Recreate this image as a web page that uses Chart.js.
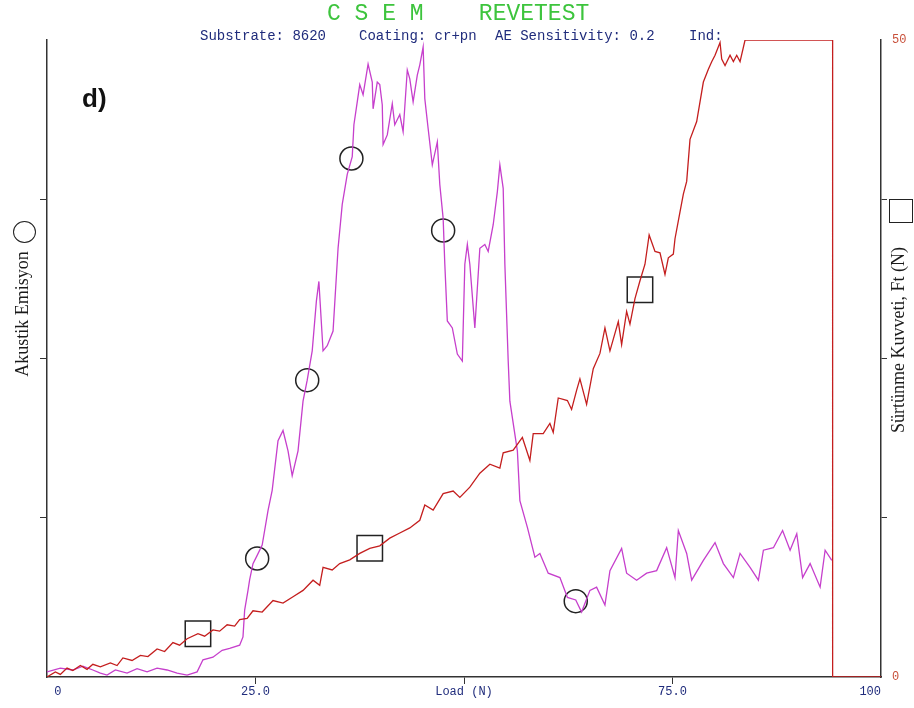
<!DOCTYPE html>
<html>
<head>
<meta charset="utf-8">
<script src="https://cdn.jsdelivr.net/npm/chart.js@4/dist/chart.umd.min.js"></script>
<style>
  body { margin: 0; background: #fff; }
  #wrap { position: relative; width: 914px; height: 708px; overflow: hidden; }
  .txt { position: absolute; white-space: pre; }
  .mono { font-family: 'Liberation Mono', 'DejaVu Sans Mono', monospace; }
  .sub { top: 29px; font-size: 14px; line-height: 14px; color: #202c7c; }
  .rot { position: absolute; white-space: nowrap; font-family: 'Liberation Serif', serif;
         font-size: 18px; color: #1a1a1a; transform: translate(-50%, -50%) rotate(-90deg); }
</style>
</head>
<body>
<div id="wrap">
  <canvas id="chart" width="914" height="708"></canvas>
  <div class="txt mono" style="left:327px;top:3px;font-size:23px;line-height:23px;color:#3dc43d;">C S E M    REVETEST</div>
  <div class="txt mono sub" style="left:200px;">Substrate: 8620</div>
  <div class="txt mono sub" style="left:359px;">Coating: cr+pn</div>
  <div class="txt mono sub" style="left:495px;">AE Sensitivity: 0.2</div>
  <div class="txt mono sub" style="left:689px;">Ind:</div>
  <div class="txt" style="left:82px;top:85px;font:bold 26px/26px 'Liberation Sans', Arial, sans-serif;color:#111;">d)</div>
  <div class="rot" style="left:22px;top:314px;">Akustik Emisyon</div>
  <div style="position:absolute;left:13px;top:221px;width:21px;height:20px;border:1.5px solid #222;border-radius:50%;"></div>
  <div class="rot" style="left:898px;top:340px;">Sürtünme Kuvveti, Ft (N)</div>
  <div style="position:absolute;left:889px;top:199px;width:22px;height:22px;border:1.5px solid #222;"></div>
</div>
<script>
// scales
const loadTicks = [0, 25, 50, 75, 100];
const loadTickLabels = ['0', '25.0', 'Load (N)', '75.0', '100'];
const aeTicks = [0, 25, 50, 75, 100];
const ftTicks = [0, 12.5, 25, 37.5, 50];
const ftTickLabels = ['0', '', '', '', '50'];

// Akustik Emisyon (magenta)
const aeLoad = [0.0, 1.6, 3.1, 4.3, 5.5, 6.4, 7.2, 8.2, 9.6, 10.8, 12.0, 13.2, 14.4, 15.6, 16.8, 18.0,
  18.7, 19.9, 21.0, 21.9, 23.1, 23.5, 23.7, 24.1, 24.3, 24.7, 25.2, 25.8, 26.5, 27.0, 27.7, 28.3,
  28.9, 29.4, 30.1, 30.7, 31.2, 31.8, 32.3, 32.6, 33.1, 33.6, 34.3, 34.9, 35.4, 36.0, 36.6, 36.8,
  37.2, 37.5, 37.9, 38.5, 39.0, 39.1, 39.6, 39.9, 40.2, 40.3, 40.8, 41.4, 41.7, 42.3, 42.7, 43.2,
  43.5, 43.9, 44.4, 44.7, 45.1, 45.3, 45.7, 46.2, 46.8, 47.1, 47.5, 47.7, 48.0, 48.6, 49.2, 49.8,
  50.1, 50.4, 50.7, 51.3, 51.9, 52.5, 52.9, 53.5, 54.0, 54.3, 54.7, 54.9, 55.3, 55.5, 56.4, 56.7,
  57.6, 58.5, 59.1, 60.1, 61.5, 62.4, 63.4, 64.1, 65.1, 65.9, 66.9, 67.5, 68.9, 69.5, 70.7, 71.9,
  73.1, 74.3, 75.3, 75.7, 76.7, 77.3, 78.7, 80.1, 81.1, 82.3, 83.1, 84.3, 85.3, 85.9, 87.1, 88.2,
  89.1, 89.9, 90.6, 91.5, 92.7, 93.3, 94.1];
const aeValue = [0.8, 1.4, 1.1, 1.7, 1.1, 0.6, 0.3, 1.1, 0.6, 1.3, 0.8, 1.4, 1.1, 0.6, 0.3, 0.8,
  2.7, 3.1, 4.2, 4.5, 5.0, 6.3, 10.5, 13.6, 15.3, 17.8, 19.1, 20.7, 26.1, 29.3, 37.1, 38.7,
  35.5, 31.6, 35.5, 43.3, 46.6, 51.2, 59.0, 62.1, 51.2, 52.0, 54.3, 67.3, 74.2, 78.9, 81.7, 86.7,
  90.3, 93.0, 91.4, 96.2, 93.4, 89.2, 93.4, 93.0, 89.8, 83.6, 85.1, 90.0, 86.7, 88.3, 85.6, 95.3,
  93.9, 90.3, 94.5, 96.1, 98.9, 90.8, 86.1, 80.4, 84.0, 77.3, 72.0, 64.8, 55.9, 54.8, 50.7, 49.6,
  64.8, 67.9, 64.8, 54.8, 67.3, 67.9, 66.8, 71.0, 76.2, 80.4, 76.7, 64.8, 49.6, 43.3, 35.5, 27.7,
  23.5, 18.8, 19.4, 16.3, 15.6, 12.5, 12.1, 10.2, 13.6, 14.1, 11.3, 16.7, 20.2, 16.3, 15.2, 16.3,
  16.7, 20.3, 15.6, 23.0, 19.4, 15.2, 18.3, 21.1, 17.8, 15.6, 19.4, 17.2, 15.2, 19.9, 20.3, 23.0,
  19.9, 22.5, 15.6, 17.8, 14.1, 19.9, 18.3];

// Sürtünme Kuvveti (red)
const ftLoad = [0.0, 1.0, 1.6, 2.4, 3.1, 4.0, 4.8, 5.5, 6.4, 7.6, 8.4, 9.1, 10.2, 11.2, 12.1, 13.2,
  14.1, 15.1, 15.9, 16.8, 18.1, 18.9, 19.9, 20.7, 21.6, 22.5, 23.1, 24.0, 24.7, 25.8, 27.1, 28.3,
  29.5, 30.7, 31.9, 32.7, 33.1, 34.2, 35.1, 36.3, 37.5, 38.7, 39.9, 41.1, 42.3, 43.5, 44.7, 45.3,
  46.3, 47.5, 48.7, 49.5, 50.7, 51.9, 53.1, 54.3, 54.7, 55.9, 57.0, 57.9, 58.3, 59.5, 60.3, 60.7,
  61.3, 62.4, 62.9, 63.5, 63.9, 64.7, 65.5, 66.3, 66.9, 67.5, 68.5, 68.9, 69.5, 69.9, 70.5, 71.1,
  71.7, 72.2, 72.9, 73.5, 74.1, 74.5, 75.1, 75.3, 75.9, 76.3, 76.7, 77.1, 77.9, 78.7, 79.3, 79.7,
  80.1, 80.7, 80.9, 81.3, 81.9, 82.3, 82.7, 83.1, 83.7, 94.2, 94.2, 100];
const ftValue = [0.0, 0.4, 0.2, 0.7, 0.5, 0.9, 0.6, 1.0, 0.8, 1.1, 0.9, 1.5, 1.3, 1.7, 1.6, 2.2,
  2.0, 2.7, 2.5, 3.0, 3.4, 3.2, 3.7, 3.6, 4.1, 4.0, 4.5, 4.6, 5.2, 5.1, 6.0, 5.8,
  6.3, 6.8, 7.6, 7.2, 8.6, 8.4, 8.9, 9.2, 9.7, 10.1, 10.3, 10.9, 11.3, 11.7, 12.3, 13.5,
  13.1, 14.4, 14.6, 14.1, 14.9, 16.0, 16.7, 16.4, 17.6, 17.8, 18.8, 17.0, 19.1, 19.1, 19.9, 19.2,
  21.9, 21.7, 21.0, 22.5, 23.4, 21.4, 24.2, 25.4, 27.4, 25.6, 27.9, 26.1, 28.7, 27.7, 29.7, 31.1,
  32.4, 34.7, 33.4, 33.3, 31.6, 32.9, 33.2, 34.4, 36.5, 37.9, 38.9, 42.2, 43.6, 46.7, 47.7, 48.3,
  48.8, 49.8, 48.5, 48.0, 48.8, 48.3, 48.8, 48.3, 50.0, 50.0, 0, 0];

// open markers
const aeMarkLoad = [25.2, 31.2, 36.5, 47.5, 63.4];
const aeMarkValue = [18.6, 46.6, 81.4, 70.1, 11.9];
const ftMarkLoad = [18.1, 38.7, 71.1];
const ftMarkValue = [3.4, 10.1, 30.4];

const pts = (xs, ys) => xs.map((x, i) => ({ x: x, y: ys[i] }));
const edgeHidden = c => (c.index === 0 || c.index === 4) ? 'rgba(0,0,0,0)' : '#333';
const monoFont = { family: "'Liberation Mono', 'DejaVu Sans Mono', monospace", size: 12 };

new Chart(document.getElementById('chart'), {
  type: 'line',
  data: {
    datasets: [
      { data: pts(ftLoad, ftValue), yAxisID: 'y1', borderColor: '#c41e1e', borderWidth: 1.3,
        pointRadius: 0, tension: 0 },
      { data: pts(aeLoad, aeValue), yAxisID: 'y', borderColor: '#c63fcc', borderWidth: 1.3,
        pointRadius: 0, tension: 0 },
      { data: pts(aeMarkLoad, aeMarkValue), yAxisID: 'y', showLine: false, pointStyle: 'circle',
        pointRadius: 11.5, pointBorderWidth: 1.5, pointBorderColor: '#222',
        pointBackgroundColor: 'rgba(0,0,0,0)' },
      { data: pts(ftMarkLoad, ftMarkValue), yAxisID: 'y1', showLine: false, pointStyle: 'rect',
        pointRadius: 18, pointBorderWidth: 1.5, pointBorderColor: '#222',
        pointBackgroundColor: 'rgba(0,0,0,0)' }
    ]
  },
  options: {
    responsive: false,
    animation: false,
    events: [],
    layout: { padding: { top: 40 } },
    plugins: { legend: { display: false }, tooltip: { enabled: false } },
    scales: {
      x: {
        type: 'linear', min: 0, max: 100,
        afterBuildTicks: s => { s.ticks = loadTicks.map(v => ({ value: v })); },
        afterFit: s => { s.height = 31; },
        border: { color: '#333', width: 1.5 },
        grid: { drawOnChartArea: false, tickLength: 7, tickColor: edgeHidden },
        ticks: {
          align: 'inner', padding: 1, color: '#202c7c', font: monoFont, maxRotation: 0,
          callback: (v, i) => (i === 0 ? ' ' : '') + loadTickLabels[i]
        }
      },
      y: {
        position: 'left', min: 0, max: 100,
        afterBuildTicks: s => { s.ticks = aeTicks.map(v => ({ value: v })); },
        afterFit: s => { s.width = 47; },
        border: { color: '#333', width: 1.5 },
        grid: { drawOnChartArea: false, tickLength: 7, tickColor: edgeHidden },
        ticks: { display: false }
      },
      y1: {
        position: 'right', min: 0, max: 50,
        afterBuildTicks: s => { s.ticks = ftTicks.map(v => ({ value: v })); },
        afterFit: s => { s.width = 33; },
        border: { color: '#333', width: 1.5 },
        grid: { drawOnChartArea: false, tickLength: 6, tickColor: edgeHidden },
        ticks: {
          padding: 5, color: '#c8503a', font: monoFont,
          callback: (v, i) => ftTickLabels[i]
        }
      }
    }
  }
});
</script>
</body>
</html>
